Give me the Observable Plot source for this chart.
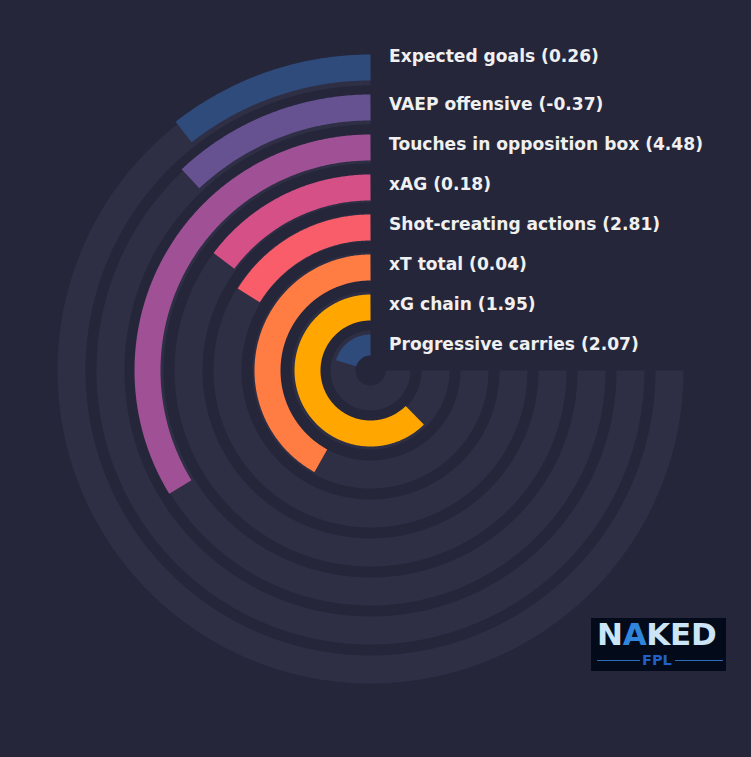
<!DOCTYPE html>
<html><head><meta charset="utf-8">
<script src="https://cdn.jsdelivr.net/npm/d3@7"></script>
<script src="https://cdn.jsdelivr.net/npm/@observablehq/plot@0.6"></script>
<style>
html,body{margin:0;padding:0;background:#25263a;}
#wrap{position:relative;width:751px;height:757px;overflow:hidden;}
#logo{position:absolute;left:591px;top:618px;width:135px;height:53px;background:#030a1a;font-family:"DejaVu Sans",sans-serif;font-weight:bold;}
#logo .naked{position:absolute;left:6px;top:1px;font-size:31px;line-height:31px;color:#cbe5f6;letter-spacing:-0.3px;white-space:nowrap;}
#logo .naked .a{color:#2f86dc;}
#logo .fpl{position:absolute;left:51px;top:35px;font-size:14.5px;line-height:14.5px;color:#2160c8;}
#logo .ln{position:absolute;top:42px;height:1px;background:#2b6cb8;}
</style></head>
<body>
<div id="wrap"><div id="chart"></div>
<div id="logo"><div class="naked">N<span class="a">A</span>KED</div><div class="ln" style="left:6px;width:43px"></div><div class="fpl">FPL</div><div class="ln" style="left:84px;width:48px"></div></div>
</div>
<script>
const metrics = ["Expected goals","VAEP offensive","Touches in opposition box","xAG","Shot-creating actions","xT total","xG chain","Progressive carries"];
const values = [0.26,-0.37,4.48,0.18,2.81,0.04,1.95,2.07];
const percentiles = [14.1,16.0,45.0,19.7,21.6,56.0,83.2,27.2];
const colors = ["#2f4b7c","#665191","#a05195","#d45087","#f95d6a","#ff7c43","#ffa600","#2f4b7c"];

const BG = "#25263a", TRACK = "#2e2f44";
const MAX_ANGLE = 270;
const trackR = k => 299 - 39 * k;
const barR = k => 303 - 40 * k;

function arcPoints(r, deg, key) {
  const pts = [];
  const n = Math.max(2, Math.ceil(deg / 0.5));
  for (let j = 0; j <= n; j++) {
    const t = (deg * j / n) * Math.PI / 180;
    pts.push({key, x: -r * Math.sin(t), y: r * Math.cos(t)});
  }
  return pts;
}

const tracks = metrics.flatMap((m, k) => arcPoints(trackR(k), MAX_ANGLE, m));
const bars = metrics.flatMap((m, k) => arcPoints(barR(k), percentiles[k] / 100 * MAX_ANGLE, m));
const labels = metrics.map((m, k) => ({k, text: `${m} (${values[k].toFixed(2)})`, x: 18.5, y: barR(k) + 2.5}));

const chart = Plot.plot({
  width: 751, height: 757, margin: 0,
  x: {domain: [-370, 381], axis: null},
  y: {domain: [-387, 370], axis: null},
  color: {domain: metrics, range: colors},
  style: {background: BG, fontFamily: "DejaVu Sans, sans-serif"},
  marks: [
    Plot.line(tracks, {x: "x", y: "y", z: "key", stroke: TRACK, strokeWidth: 28, strokeLinecap: "butt", curve: "linear"}),
    Plot.line(bars, {x: "x", y: "y", z: "key", stroke: "key", strokeWidth: 26, strokeLinecap: "butt", curve: "linear"}),
    Plot.dot([{x: 0, y: 0}], {x: "x", y: "y", r: 15, fill: BG}),
    Plot.text(labels.filter(d => d.k > 0), {x: "x", y: "y", text: "text", textAnchor: "start", fill: "#f0f0f0", fontSize: 17.1, fontWeight: "bold"}),
    Plot.text(labels.filter(d => d.k === 0), {x: "x", y: "y", text: "text", textAnchor: "start", fill: "#f0f0f0", fontSize: 17.1, fontWeight: "bold", dy: -8.5})
  ]
});
document.getElementById("chart").appendChild(chart);
</script>
</body></html>
